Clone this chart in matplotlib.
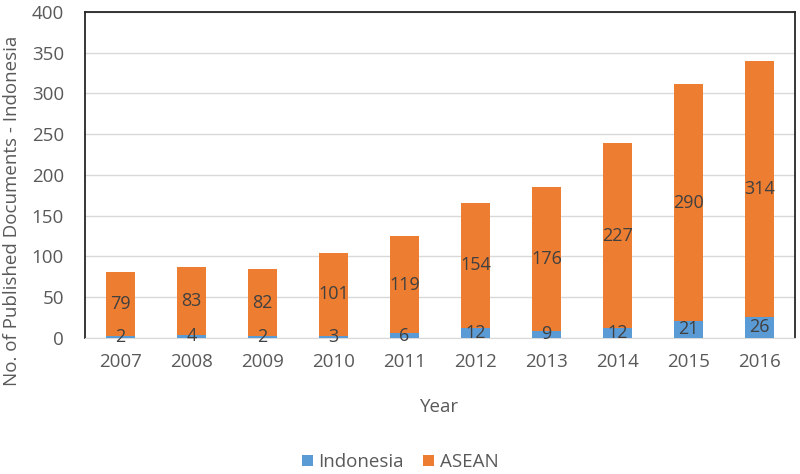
import matplotlib.pyplot as plt
import numpy as np

years = ["2007", "2008", "2009", "2010", "2011", "2012", "2013", "2014", "2015", "2016"]
indonesia = [2, 4, 2, 3, 6, 12, 9, 12, 21, 26]
asean = [79, 83, 82, 101, 119, 154, 176, 227, 290, 314]

blue = "#5B9BD5"
orange = "#ED7D31"
txt = "#404040"
tick_col = "#595959"

plt.rcParams['font.family'] = ['Open Sans', 'DejaVu Sans']

fig = plt.figure(figsize=(8, 4.74), dpi=100)
ax = fig.add_axes([0.106, 0.287, 0.888, 0.688])

x = np.arange(len(years))
w = 0.4
b1 = ax.bar(x, indonesia, w, color=blue, label="Indonesia", zorder=3)
b2 = ax.bar(x, asean, w, bottom=indonesia, color=orange, label="ASEAN", zorder=3)

for i in range(len(years)):
    ax.text(x[i], indonesia[i] / 2, str(indonesia[i]), ha="center", va="center",
            fontsize=13, color=txt, zorder=4)
    ax.text(x[i], indonesia[i] + asean[i] / 2, str(asean[i]), ha="center", va="center",
            fontsize=13, color=txt, zorder=4)

ax.set_xlim(-0.5, len(years) - 0.5)
ax.set_ylim(0, 400)
ax.set_yticks(range(0, 401, 50))
ax.set_xticks(x)
ax.set_xticklabels(years)
ax.tick_params(axis="both", length=0, labelsize=13.5, labelcolor=tick_col)
ax.tick_params(axis="x", pad=11)
ax.tick_params(axis="y", pad=15)
ax.grid(axis="y", color="#D9D9D9", linewidth=1, zorder=0)

for s in ["left", "top", "right"]:
    ax.spines[s].set_color("#262626")
    ax.spines[s].set_linewidth(1.3)
ax.spines["bottom"].set_color("#D9D9D9")

ax.set_xlabel("Year", fontsize=13.5, color=tick_col)
ax.xaxis.set_label_coords(0.5, -0.185)
ax.set_ylabel("No. of Published Documents - Indonesia", fontsize=13.5, color=tick_col)
ax.yaxis.set_label_coords(-0.09, 0.39)

fig.legend(handles=[b1, b2], loc="center", bbox_to_anchor=(0.5, 0.025), ncol=2,
           frameon=False, fontsize=13.5, labelcolor=tick_col, handlelength=0.6,
           handleheight=0.6, handletextpad=0.3, columnspacing=1.0)

fig.savefig("out.png", dpi=100)
